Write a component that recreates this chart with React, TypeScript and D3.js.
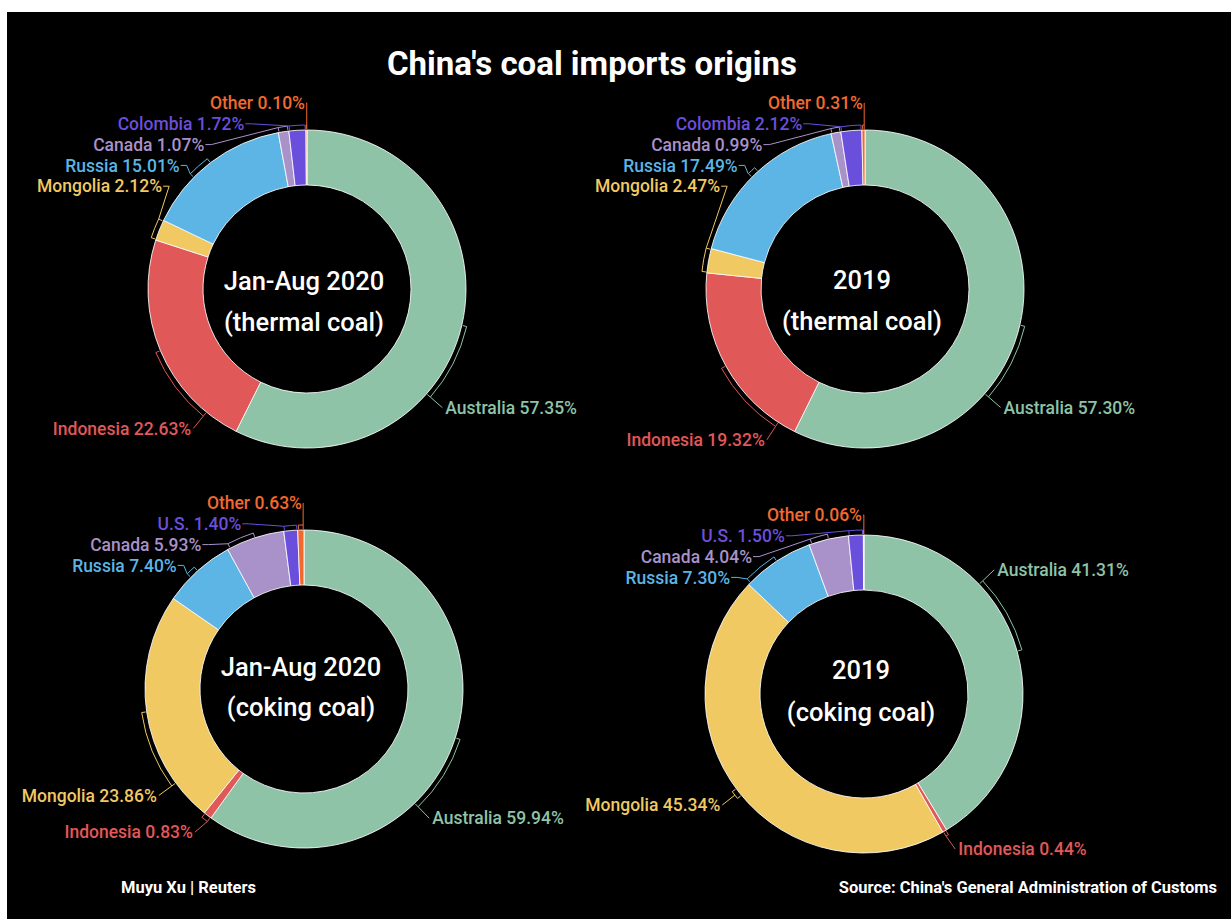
import React, { useEffect, useRef } from "react";
import * as d3 from "d3";

// data
const thermalOrigins = ["Australia", "Indonesia", "Mongolia", "Russia", "Canada", "Colombia", "Other"];
const cokingOrigins = ["Australia", "Indonesia", "Mongolia", "Russia", "Canada", "U.S.", "Other"];
const thermal2020 = [57.35, 22.63, 2.12, 15.01, 1.07, 1.72, 0.1];
const thermal2019 = [57.3, 19.32, 2.47, 17.49, 0.99, 2.12, 0.31];
const coking2020 = [59.94, 0.83, 23.86, 7.4, 5.93, 1.4, 0.63];
const coking2019 = [41.31, 0.44, 45.34, 7.3, 4.04, 1.5, 0.06];
const centerLabels = [
  ["Jan-Aug 2020", "(thermal coal)"],
  ["2019", "(thermal coal)"],
  ["Jan-Aug 2020", "(coking coal)"],
  ["2019", "(coking coal)"],
];

const colors: Record<string, string> = {
  Australia: "#8ec3a7",
  Indonesia: "#e05858",
  Mongolia: "#f0c963",
  Russia: "#5cb5e4",
  Canada: "#a991c9",
  Colombia: "#6a4fdc",
  "U.S.": "#6a4fdc",
  Other: "#f2692f",
};

const FONT = "Roboto, 'Noto Sans', sans-serif";
const R = 159;
const R0 = 104;
const deg = Math.PI / 180;

const pt = (a: number, rad: number): [number, number] => [rad * Math.sin(a), -rad * Math.cos(a)];

function drawDonut(svg: any, names: string[], values: number[], cx: number, cy: number, lines: string[], textDy: number[], stackTop: number) {
  const pie = d3.pie<number>().sort(null).value((d) => d)(values);
  const arc = d3.arc<d3.PieArcDatum<number>>().innerRadius(R0).outerRadius(R);

  const g = svg.append("g").attr("transform", `translate(${cx},${cy})`);

  g.selectAll("path.slice")
    .data(pie)
    .join("path")
    .attr("class", "slice")
    .attr("d", arc)
    .attr("fill", (d: any, i: number) => colors[names[i]])
    .attr("stroke", "#fff")
    .attr("stroke-opacity", 0.85)
    .attr("stroke-width", 1);

  const items = pie.map((d, i) => ({
    name: names[i],
    value: values[i],
    a0: d.startAngle,
    a1: d.endAngle,
    mid: (d.startAngle + d.endAngle) / 2,
    la: 0,
    lx: 0,
    ly: 0,
    side: "left",
    stacked: false,
  }));

  // small slices on the top-left get stacked in a column
  const stacked = items.filter((d) => d.mid > 1.5 * Math.PI).sort((a, b) => b.mid - a.mid);
  stacked.forEach((d, i) => {
    const y = stackTop + i * 20.8;
    const x = -Math.sqrt(Math.max(0, 176 * 176 - y * y));
    d.lx = x;
    d.ly = y;
    d.stacked = true;
    d.side = "left";
    let a = Math.atan2(x, -y);
    if (a < 0) a += 2 * Math.PI;
    d.la = a;
  });

  const rest = items.filter((d) => d.mid <= 1.5 * Math.PI);
  rest.forEach((d) => {
    const horiz = d.mid < Math.PI ? Math.PI / 2 : 1.5 * Math.PI;
    let la = d.mid;
    if (Math.abs(d.mid - horiz) < 30 * deg) la = d.mid + Math.sign(d.mid - horiz) * 28 * deg;
    d.la = la;
    const [x, y] = pt(la, 180);
    d.lx = x;
    d.ly = y;
    d.side = la < Math.PI ? "right" : "left";
  });
  ["left", "right"].forEach((side) => {
    const grp = rest.filter((d) => d.side === side).sort((a, b) => a.ly - b.ly);
    for (let i = 1; i < grp.length; i++) {
      if (grp[i].ly - grp[i - 1].ly < 21) {
        grp[i].ly = grp[i - 1].ly + 21;
        const dx = Math.sqrt(Math.max(0, 180 * 180 - grp[i].ly * grp[i].ly));
        grp[i].lx = side === "right" ? dx : -dx;
      }
    }
  });

  const Rb = R + 5;
  items.forEach((d) => {
    const color = colors[d.name];
    let b0: number, b1: number, lead: number;
    if (d.a1 - d.a0 < 10 * deg) {
      const pad = Math.min(0.3 * deg, (d.a1 - d.a0) / 4);
      b0 = d.a0 + pad;
      b1 = d.a1 - pad;
      lead = Math.abs(d.la - b0) < Math.abs(d.la - b1) ? b0 : b1;
      if (d.la < Math.PI / 2 && d.a1 > 1.5 * Math.PI) lead = b1;
    } else {
      const lc = Math.min(Math.max(d.la, d.a0 + deg), d.a1 - deg);
      b0 = Math.min(d.mid, lc);
      b1 = Math.max(d.mid, lc);
      if (b1 - b0 < 3 * deg) {
        b0 = d.mid - 1.5 * deg;
        b1 = d.mid + 1.5 * deg;
      }
      lead = lc;
    }

    // bracket hugging the slice
    const p = d3.path();
    const s0 = pt(b0, R + 1);
    const s1 = pt(b0, Rb);
    p.moveTo(s0[0], s0[1]);
    p.lineTo(s1[0], s1[1]);
    p.arc(0, 0, Rb, b0 - Math.PI / 2, b1 - Math.PI / 2, false);
    const s2 = pt(b1, R + 1);
    p.lineTo(s2[0], s2[1]);
    g.append("path").attr("d", p.toString()).attr("fill", "none").attr("stroke", color).attr("stroke-width", 1);

    // leader to the label
    const bp = pt(lead, Rb);
    const lp = d3.path();
    if (d.stacked) {
      const ex = bp[0] > d.lx - 2 && bp[0] < d.lx + 7 ? bp[0] : d.lx + 5;
      lp.moveTo(d.lx - 1, d.ly);
      lp.lineTo(ex, d.ly);
      lp.lineTo(bp[0], bp[1]);
    } else {
      lp.moveTo(bp[0], bp[1]);
      lp.lineTo(d.lx, d.ly);
    }
    g.append("path").attr("d", lp.toString()).attr("fill", "none").attr("stroke", color).attr("stroke-width", 1);

    g.append("text")
      .attr("x", d.side === "right" ? d.lx + 3 : d.lx - 2)
      .attr("y", d.ly)
      .attr("dy", "0.35em")
      .attr("text-anchor", d.side === "right" ? "start" : "end")
      .attr("fill", color)
      .attr("font-family", FONT)
      .attr("font-weight", 500)
      .attr("font-size", 17.5)
      .text(`${d.name} ${d.value.toFixed(2)}%`);
  });

  lines.forEach((t, i) => {
    g.append("text")
      .attr("x", -3)
      .attr("y", textDy[i])
      .attr("text-anchor", "middle")
      .attr("fill", "#fff")
      .attr("font-family", FONT)
      .attr("font-weight", 500)
      .attr("font-size", 25.5)
      .text(t);
  });
}

export default function App() {
  const ref = useRef<SVGSVGElement>(null);

  useEffect(() => {
    const svg = d3.select(ref.current);
    svg.selectAll("*").remove();

    svg.append("rect").attr("width", 1231).attr("height", 919).attr("fill", "#fff");
    svg.append("rect").attr("x", 7).attr("y", 12).attr("width", 1224).attr("height", 907).attr("fill", "#000");

    svg
      .append("text")
      .attr("x", 592)
      .attr("y", 75)
      .attr("text-anchor", "middle")
      .attr("fill", "#fff")
      .attr("font-family", FONT)
      .attr("font-weight", 700)
      .attr("font-size", 33)
      .text("China's coal imports origins");

    drawDonut(svg, thermalOrigins, thermal2020, 307, 289, centerLabels[0], [1, 42], -186);
    drawDonut(svg, thermalOrigins, thermal2019, 865, 289, centerLabels[1], [0, 41], -186);
    drawDonut(svg, cokingOrigins, coking2020, 304, 689, centerLabels[2], [-13, 27], -186);
    drawDonut(svg, cokingOrigins, coking2019, 864, 694, centerLabels[3], [-15, 27], -179);

    svg
      .append("text")
      .attr("x", 121)
      .attr("y", 893)
      .attr("fill", "#fff")
      .attr("font-family", FONT)
      .attr("font-weight", 700)
      .attr("font-size", 16.5)
      .text("Muyu Xu | Reuters");

    svg
      .append("text")
      .attr("x", 1217)
      .attr("y", 893)
      .attr("text-anchor", "end")
      .attr("fill", "#fff")
      .attr("font-family", FONT)
      .attr("font-weight", 700)
      .attr("font-size", 16.5)
      .text("Source: China's General Administration of Customs");
  }, []);

  return (
    <div style={{ position: "fixed", left: 0, top: 0 }}>
      <svg ref={ref} width={1231} height={919} style={{ display: "block" }} />
    </div>
  );
}
